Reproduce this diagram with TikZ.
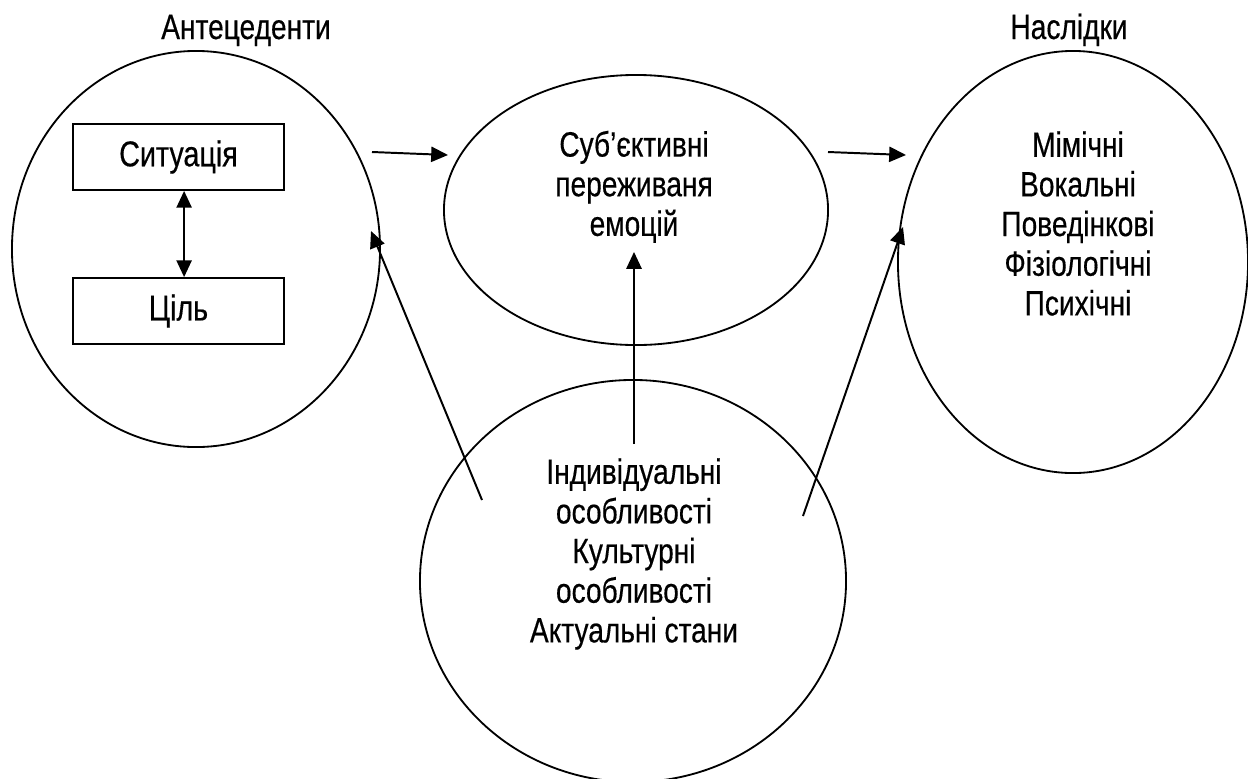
\documentclass[tikz,border=0pt]{standalone}
\usepackage{fontspec}
\setmainfont{Liberation Sans}[FakeStretch=0.8, FakeBold=0.4]
\usetikzlibrary{shapes.geometric, arrows.meta}
\usetikzlibrary{positioning}
\tikzstyle{arrow} = [line width=1.4pt,-{Triangle[length=0.42cm,width=0.38cm]}]
\tikzstyle{dblarrow} = [line width=1.4pt,{Triangle[length=0.42cm,width=0.38cm]}-{Triangle[length=0.42cm,width=0.38cm]}]
\tikzstyle{blob} = [draw, ellipse, line width=1.3pt, inner sep=0pt]
\tikzstyle{box} = [draw, rectangle, line width=1.3pt, minimum width=5.28cm, minimum height=1.65cm, inner sep=0pt, font=\fontsize{25.5}{28.2}\selectfont]
\tikzstyle{txt} = [align=center, inner sep=0pt, font=\fontsize{25}{28.2}\selectfont]

\begin{document}
\begin{tikzpicture}[x=0.025cm, y=-0.025cm]
            \useasboundingbox (0,0) rectangle (1248,778);
            \node[blob, minimum width=9.2cm, minimum height=9.9cm] (ante) at (196,249) {};
            \node[blob, minimum width=9.6cm, minimum height=6.75cm] (subj) at (636,210) {};
            \node[blob, minimum width=8.75cm, minimum height=10.55cm] (cons) at (1073,262) {};
            \node[blob, minimum width=10.65cm, minimum height=10.05cm] (infl) at (633,581) {};

            \node[txt, anchor=base] (antelbl) at (246,39) {Антецеденти};
            \node[txt, anchor=base] (conslbl) at (1069,39) {Наслідки};

            \node[box] (sit) at (178.5,157) {Ситуація};
            \node[box] (goal) at (178.5,311) {Ціль};

            \node[txt, anchor=north] (subjtxt) at (634,130.5) {Суб’єктивні\\переживаня\\емоцій};
            \node[txt, anchor=north] (constxt) at (1078,131) {Мімічні\\Вокальні\\Поведінкові\\Фізіологічні\\Психічні};
            \node[txt, anchor=north] (infltxt) at (634,458) {Індивідуальні\\особливості\\Культурні\\особливості\\Актуальні стани};

            \coordinate (anteout) at (372,152);
            \coordinate (subjin) at (448,155);
            \coordinate (subjout) at (828,152);
            \coordinate (consin) at (906,155);
            \coordinate (leftfoot) at (482,500);
            \coordinate (leftend) at (371,231);
            \coordinate (rightfoot) at (803,516);
            \coordinate (rightend) at (903,227);

            \draw[dblarrow] ([xshift=0.14cm]sit.south) -- ([xshift=0.14cm]goal.north);
            \draw[arrow] (anteout) -- (subjin);
            \draw[arrow] (subjout) -- (consin);
            \draw[arrow] ([yshift=0.35cm]infltxt.north) -- ([yshift=-0.22cm]subjtxt.south);
            \draw[arrow] (leftfoot) -- (leftend);
            \draw[arrow] (rightfoot) -- (rightend);
        \end{tikzpicture}
\end{document}
